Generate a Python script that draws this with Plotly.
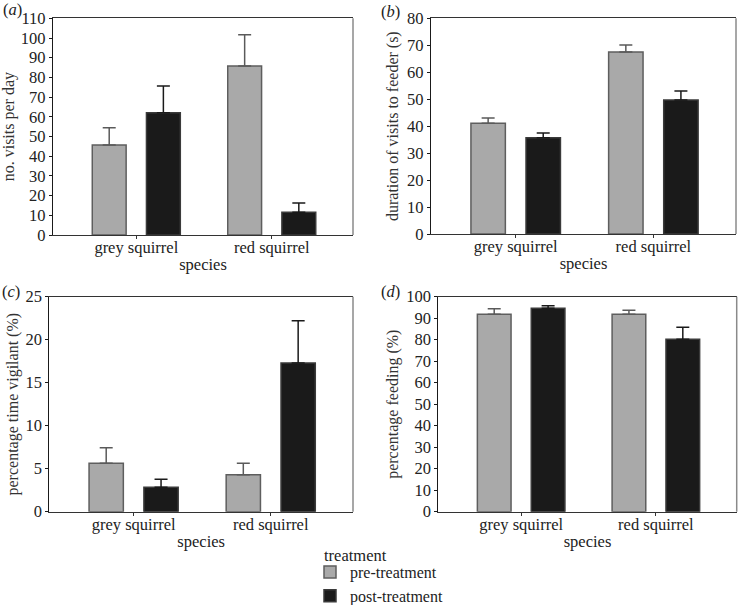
import plotly.graph_objects as go

species = ["grey squirrel", "red squirrel"]
treatments = ["pre-treatment", "post-treatment"]

# (a) number of visits per day
visits_pre = [45.7, 85.8]
visits_pre_err = [8.8, 15.9]
visits_post = [62.0, 11.5]
visits_post_err = [13.6, 4.7]

# (b) duration of visits to feeder (s)
dur_pre = [41.1, 67.5]
dur_pre_err = [1.9, 2.6]
dur_post = [35.7, 49.7]
dur_post_err = [1.8, 3.3]

# (c) percentage time vigilant (%)
vig_pre = [5.63, 4.3]
vig_pre_err = [1.81, 1.33]
vig_post = [2.84, 17.3]
vig_post_err = [0.93, 4.9]

# (d) percentage feeding (%)
feed_pre = [91.8, 91.8]
feed_pre_err = [2.6, 1.9]
feed_post = [94.6, 80.2]
feed_post_err = [1.2, 5.6]

panels = [
    ("a", visits_pre, visits_pre_err, visits_post, visits_post_err, "no. visits per day", [0, 110], 10),
    ("b", dur_pre, dur_pre_err, dur_post, dur_post_err, "duration of visits to feeder (s)", [0, 80], 10),
    ("c", vig_pre, vig_pre_err, vig_post, vig_post_err, "percentage time vigilant (%)", [0, 25], 5),
    ("d", feed_pre, feed_pre_err, feed_post, feed_post_err, "percentage feeding (%)", [0, 100], 10),
]

W, H = 738, 605
def px_x(a, b):
    return [a / W, b / W]
def px_y(top, bottom):
    return [1 - bottom / H, 1 - top / H]

domains = [
    (px_x(53, 353), px_y(18.3, 235)),
    (px_x(431, 736), px_y(18.3, 234)),
    (px_x(49.3, 353), px_y(296.7, 511.7)),
    (px_x(438.3, 736.7), px_y(296.7, 511.7)),
]
ytitle_standoff = [5, 4, 2, 3]

FONT = "Liberation Serif"
FS = 16.5
TXT = "#222222"
PRE_FILL = "#a9a9a9"
PRE_LINE = "#5e5e5e"
POST_FILL = "#1a1a1a"
POST_LINE = "#3a3a3a"

fig = go.Figure()
layout = {}
annotations = []
shapes = []

for i, (lab, pre, pre_e, post, post_e, ytitle, yr, dt) in enumerate(panels):
    n = i + 1
    xa = "x" if n == 1 else f"x{n}"
    ya = "y" if n == 1 else f"y{n}"
    fig.add_trace(go.Bar(
        x=species, y=pre, name=treatments[0], xaxis=xa, yaxis=ya,
        marker=dict(color=PRE_FILL, line=dict(color=PRE_LINE, width=1.5)),
        error_y=dict(type="data", array=pre_e, arrayminus=[0] * len(pre_e), symmetric=False,
                     color="#5a5a5a", thickness=1.5, width=6.5),
        showlegend=(n == 1), legendgroup="pre",
    ))
    fig.add_trace(go.Bar(
        x=species, y=post, name=treatments[1], xaxis=xa, yaxis=ya,
        marker=dict(color=POST_FILL, line=dict(color=POST_LINE, width=1.5)),
        error_y=dict(type="data", array=post_e, arrayminus=[0] * len(post_e), symmetric=False,
                     color="#1a1a1a", thickness=1.5, width=6.5),
        showlegend=(n == 1), legendgroup="post",
    ))
    xd, yd = domains[i]
    xkey = "xaxis" if n == 1 else f"xaxis{n}"
    ykey = "yaxis" if n == 1 else f"yaxis{n}"
    layout[xkey] = dict(
        domain=xd, anchor=ya, type="category", range=[-0.615, 1.6], automargin=False,
        showline=True, linecolor="#333333", linewidth=1.2, mirror=True,
        ticks="outside", ticklen=3, tickcolor="#333333", tickwidth=1,
        ticklabelstandoff=-6,
        tickfont=dict(family=FONT, size=FS, color=TXT),
        title=dict(text="species", font=dict(family=FONT, size=FS, color=TXT), standoff=2),
        showgrid=False, zeroline=False, fixedrange=True,
    )
    layout[ykey] = dict(
        domain=yd, anchor=xa, range=yr, dtick=dt, tick0=0, automargin=False,
        showline=True, linecolor="#1a1a1a", linewidth=1.2,
        ticks="outside", ticklen=3, tickcolor="#1a1a1a", tickwidth=1,
        tickfont=dict(family=FONT, size=FS, color=TXT),
        title=dict(text=ytitle, font=dict(family=FONT, size=16, color="#333333"),
                   standoff=ytitle_standoff[i]),
        showgrid=False, zeroline=False, fixedrange=True,
    )
    # right border in lighter grey
    shapes.append(dict(type="line", xref=f"{xa} domain", yref=f"{ya} domain",
                       x0=1, x1=1, y0=0, y1=1, line=dict(color="#8a8a8a", width=1.5)))

label_pos = [(12, 10), (390, 12), (11, 291), (390, 291)]
for (lab, *_), (lx, ly) in zip(panels, label_pos):
    annotations.append(dict(
        text=f"(<i>{lab}</i>)", x=lx / W, y=1 - ly / H, xref="paper", yref="paper",
        showarrow=False, xanchor="center", yanchor="middle",
        font=dict(family=FONT, size=FS, color=TXT),
    ))

# legend heading
annotations.append(dict(
    text="treatment", x=322 / W, y=1 - 555 / H, xref="paper", yref="paper",
    showarrow=False, xanchor="left", yanchor="middle",
    font=dict(family=FONT, size=FS, color=TXT),
))

fig.update_layout(
    **layout,
    annotations=annotations,
    shapes=shapes,
    barmode="group", bargap=0.2, bargroupgap=0.375,
    width=W, height=H, autosize=False,
    margin=dict(l=0, r=0, t=0, b=0, autoexpand=False),
    paper_bgcolor="white", plot_bgcolor="white",
    font=dict(family=FONT, size=FS, color=TXT),
    legend=dict(
        x=310 / W, y=1 - 555 / H, xanchor="left", yanchor="top",
        font=dict(family=FONT, size=16, color=TXT),
        bgcolor="rgba(0,0,0,0)", itemwidth=30, tracegroupgap=0,
    ),
)

fig.write_html("out.html", config={"displayModeBar": False},
               post_script="document.body.style.margin='0px';")
